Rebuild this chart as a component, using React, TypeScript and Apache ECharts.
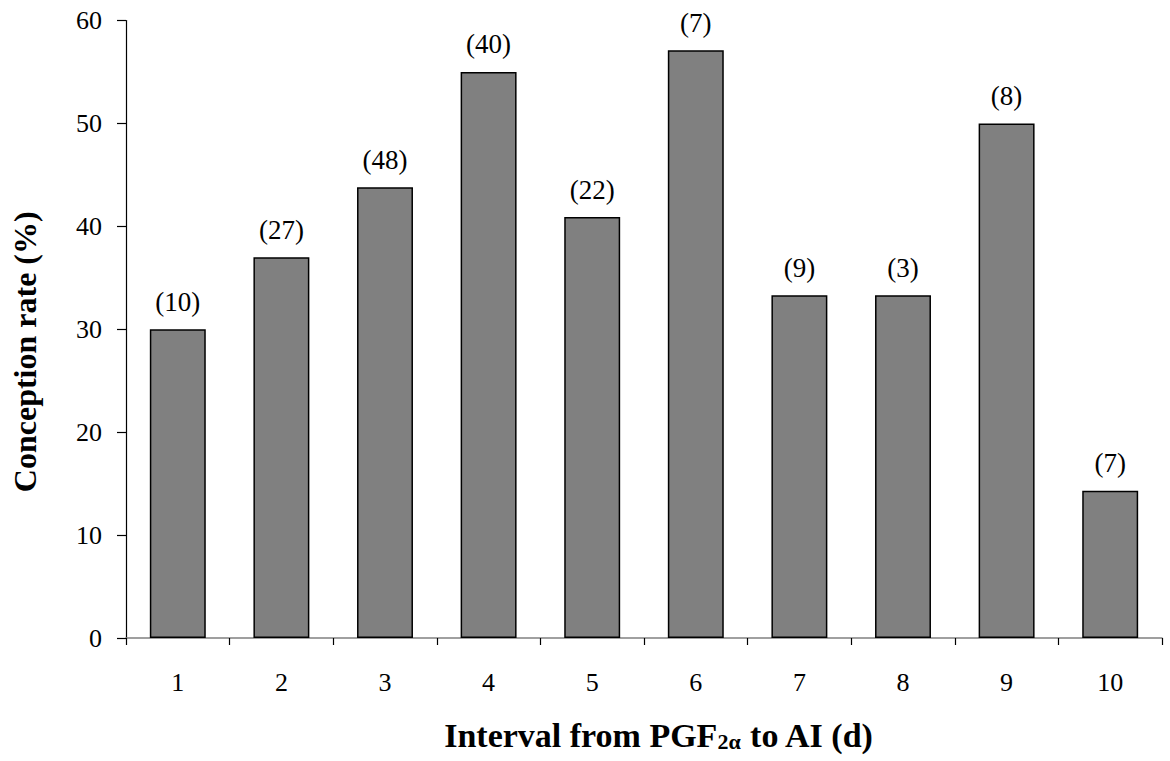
import React, { useEffect, useRef } from "react";
import * as echarts from "echarts";

const categories = ["1", "2", "3", "4", "5", "6", "7", "8", "9", "10"];
const conceptionRate = [30, 37.0, 43.8, 55, 40.9, 57.1, 33.3, 33.3, 50, 14.3];
const counts = [10, 27, 48, 40, 22, 7, 9, 3, 8, 7];

const FONT = "'Liberation Serif', 'Times New Roman', serif";

export default function App() {
  const ref = useRef<HTMLDivElement>(null);
  useEffect(() => {
    const chart = echarts.init(ref.current!, undefined, { renderer: "svg" });
    chart.setOption({
      animation: false,
      backgroundColor: "#ffffff",
      grid: {
        left: 126,
        right: 8,
        top: 20.5,
        bottom: 123,
        containLabel: false,
        outerBoundsMode: "none",
      },
      xAxis: {
        type: "category",
        data: categories,
        boundaryGap: true,
        axisLine: { lineStyle: { color: "#808080", width: 1.5 } },
        axisTick: { show: true, length: 7, lineStyle: { color: "#000", width: 1.2 } },
        axisLabel: { color: "#000", fontFamily: FONT, fontSize: 26, margin: 31 },
        name: "{b|Interval from PGF}{s|2α}{b| to AI (d)}",
        nameLocation: "middle",
        nameGap: 80,
        nameTextStyle: {
          padding: [0, 0, 0, 30],
          rich: {
            b: { fontFamily: FONT, fontWeight: "bold", fontSize: 34, color: "#000" },
            s: {
              fontFamily: FONT,
              fontWeight: "bold",
              fontSize: 22,
              color: "#000",
              verticalAlign: "bottom",
              padding: [12, 0, 0, 0],
            },
          },
        },
      },
      yAxis: {
        type: "value",
        min: 0,
        max: 60,
        interval: 10,
        splitLine: { show: false },
        axisLine: { show: true, lineStyle: { color: "#000", width: 1.2 } },
        axisTick: { show: true, length: 9, lineStyle: { color: "#000", width: 1.2 } },
        axisLabel: { color: "#000", fontFamily: FONT, fontSize: 26, margin: 24 },
        name: "Conception rate (%)",
        nameLocation: "middle",
        nameGap: 85,
        nameTextStyle: {
          fontFamily: FONT,
          fontWeight: "bold",
          fontSize: 32,
          color: "#000",
          padding: [0, 45, 0, 0],
        },
      },
      series: [
        {
          type: "bar",
          data: conceptionRate,
          barWidth: "54%",
          itemStyle: { color: "#808080", borderColor: "#000", borderWidth: 1.5 },
          label: {
            show: true,
            position: "top",
            distance: 14,
            color: "#000",
            fontFamily: FONT,
            fontSize: 27,
            formatter: (p: any) => `(${counts[p.dataIndex]})`,
          },
        },
      ],
    });
    return () => chart.dispose();
  }, []);
  return (
    <div
      ref={ref}
      style={{ position: "absolute", left: 0, top: 0, width: 1170, height: 761 }}
    />
  );
}
